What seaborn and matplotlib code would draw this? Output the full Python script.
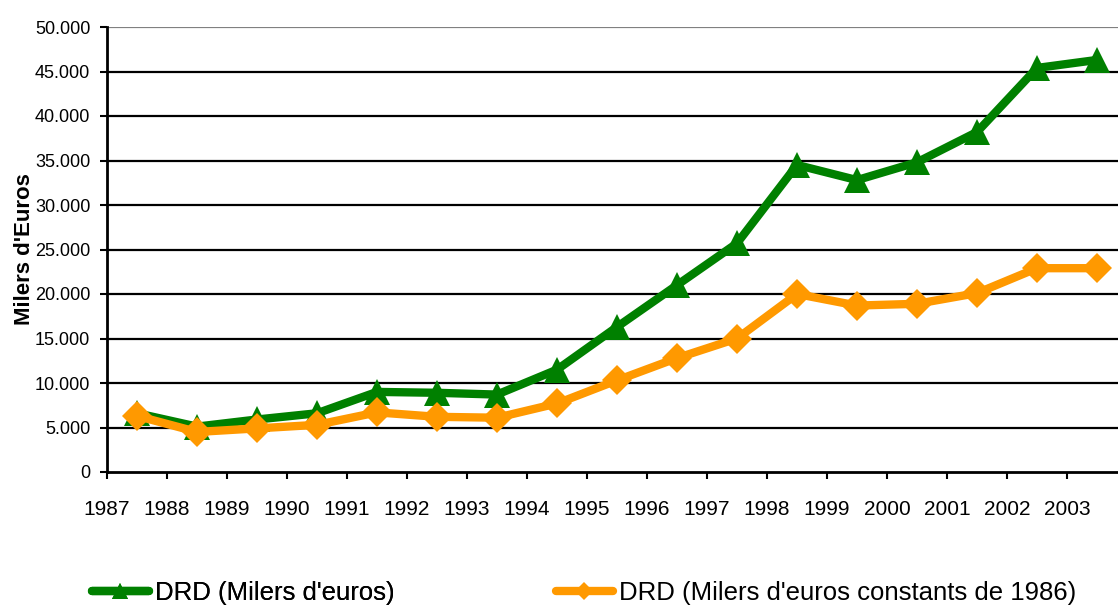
import numpy as np
import pandas as pd
import matplotlib
matplotlib.use("Agg")
import matplotlib.pyplot as plt
from matplotlib.lines import Line2D
from matplotlib.ticker import FuncFormatter
import seaborn as sns

years = [str(y) for y in range(1987, 2004)]
drd_current = [6600, 5100, 5900, 6600, 9000, 8900, 8700, 11500, 16300, 21000,
               25700, 34500, 32800, 34800, 38200, 45400, 46300]
drd_constant = [6300, 4500, 4900, 5300, 6700, 6200, 6100, 7700, 10300, 12800,
                15000, 20000, 18700, 18900, 20100, 22900, 22900]
label_current = "DRD (Milers d'euros)"
label_constant = "DRD (Milers d'euros constants de 1986)"
y_label = "Milers d'Euros"

GREEN = "#008000"
ORANGE = "#FF9900"

sns.set_style("white", {"text.color": "black", "axes.labelcolor": "black",
                        "xtick.color": "black", "ytick.color": "black"})
plt.rcParams["font.family"] = ["Liberation Sans", "DejaVu Sans"]

df = pd.DataFrame({"year": years, "current": drd_current, "constant": drd_constant})

fig = plt.figure(figsize=(11.18, 6.06), dpi=100)
ax = fig.add_axes([107 / 1118, 1 - 472 / 606, 1020 / 1118, 445 / 606])

sns.lineplot(data=df, x="year", y="current", ax=ax, color=GREEN, lw=6,
             marker="^", markersize=19, markeredgewidth=0, sort=False, zorder=3)
sns.lineplot(data=df, x="year", y="constant", ax=ax, color=ORANGE, lw=6,
             marker="D", markersize=15, markeredgewidth=0, sort=False, zorder=4)

ax.set_ylim(0, 50000)
ax.set_xlim(-0.5, len(years) - 0.5)
ax.set_yticks(np.arange(0, 50001, 5000))
ax.yaxis.set_major_formatter(FuncFormatter(lambda v, p: f"{int(v):,}".replace(",", ".")))
ax.set_xticks(np.arange(len(years)) - 0.5)
ax.set_xticklabels(years)

for v in np.arange(5000, 50001, 5000):
    ax.axhline(v, color="#808080" if v == 50000 else "black", lw=1.6, zorder=1)

for side in ("top", "right"):
    ax.spines[side].set_visible(False)
for side in ("left", "bottom"):
    ax.spines[side].set_color("black")
    ax.spines[side].set_linewidth(2)

ax.tick_params(axis="y", which="major", left=True, length=5, width=1.5,
               color="black", labelcolor="black", labelsize=13, pad=7)
ax.tick_params(axis="x", which="major", bottom=True, length=5, width=1.5,
               color="black", labelcolor="black", labelsize=15, pad=15)
ax.set_xlabel("")
ax.set_ylabel(y_label, fontsize=16, fontweight="bold", labelpad=0, color="black")

h1 = Line2D([], [], color=GREEN, lw=6, marker="^", markersize=12, markeredgewidth=0)
h2 = Line2D([], [], color=ORANGE, lw=6, marker="D", markersize=9, markeredgewidth=0)
leg_kw = dict(loc="center left", frameon=False, fontsize=18.5, handlelength=2.2,
              handletextpad=0.25, borderpad=0, borderaxespad=0, labelcolor="black")
leg1 = fig.legend([h1], [label_current], bbox_to_anchor=(92 / 1118, 1 - 593 / 606), **leg_kw)
leg2 = fig.legend([h2], [label_constant], bbox_to_anchor=(556 / 1118, 1 - 593 / 606), **leg_kw)
fig.add_artist(leg1)

fig.savefig("out.png", dpi=100)
